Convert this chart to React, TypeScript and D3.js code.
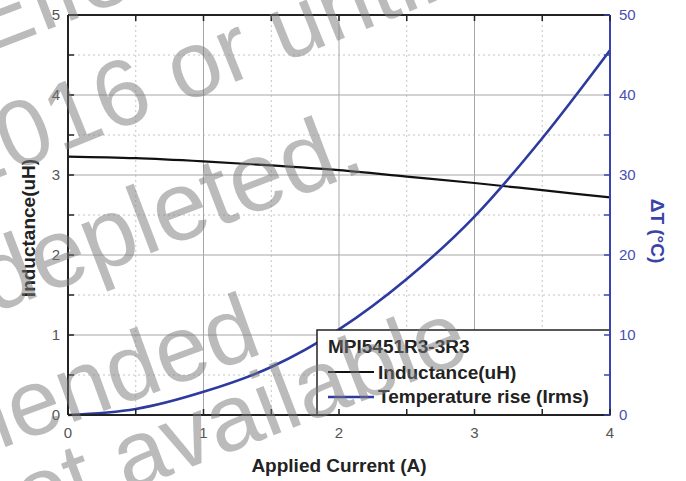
import React from 'react';
import * as d3 from 'd3';

// ---- data ----
const current = [0, 0.5, 1, 1.5, 2, 2.5, 3, 3.5, 4];
const inductance = [3.23, 3.21, 3.17, 3.12, 3.06, 2.98, 2.9, 2.81, 2.72];
const tempRise = [0, 0.75, 2.9, 6.0, 10.7, 17.0, 24.8, 34.6, 45.6];

const xTicks = [0, 1, 2, 3, 4];
const xMinor = [0.5, 1.5, 2.5, 3.5];
const leftTicks = [0, 1, 2, 3, 4, 5];
const leftMinor = [0.5, 1.5, 2.5, 3.5, 4.5];
const rightTicks = [0, 10, 20, 30, 40, 50];
const rightMinor = [5, 15, 25, 35, 45];

const legendTitle = 'MPI5451R3-3R3';
const seriesNames = ['Inductance(uH)', 'Temperature rise (Irms)'];
const xTitle = 'Applied Current (A)';
const yLeftTitle = 'Inductance(uH)';
const yRightTitle = 'ΔT (°C)';

const watermarkLines = ['Effective', '2016 or until', 'depleted.', 'recommended', 'not available'];

// ---- layout ----
const W = 686, H = 481;
const M = { left: 68, right: 610, top: 15, bottom: 415 };
const watermarkPos: [number, number, number, number][] = [
  [-18, 55, -21, 94],
  [-37, 192, -22, 94],
  [-8, 314, -21, 98],
  [-300, 558, -20, 94],
  [-20, 548, -21, 94],
];
const FONT = "Arial, 'Liberation Sans', sans-serif";
const BLUE_LINE = '#2d3a9e';
const BLUE_AXIS = '#3a44b0';
const BLUE_TEXT = '#4850b2';

export default function App() {
  const x = d3.scaleLinear().domain([0, 4]).range([M.left, M.right]);
  const yL = d3.scaleLinear().domain([0, 5]).range([M.bottom, M.top]);
  const yR = d3.scaleLinear().domain([0, 50]).range([M.bottom, M.top]);

  const indLine = d3
    .line<number>()
    .x((_, i) => x(current[i]))
    .y((d) => yL(d))
    .curve(d3.curveMonotoneX)(inductance) as string;
  const tempLine = d3
    .line<number>()
    .x((_, i) => x(current[i]))
    .y((d) => yR(d))
    .curve(d3.curveMonotoneX)(tempRise) as string;

  const tick = 6;
  const lg = { x0: 317, y0: 330 };

  return (
    <svg
      width={W}
      height={H}
      style={{ position: 'absolute', left: 0, top: 0, background: '#fff' }}
      fontFamily={FONT}
    >
      <rect x={0} y={0} width={W} height={H} fill="#fff" />
      {/* minor grid */}
      {xMinor.map((t) => (
        <line key={'gx' + t} x1={x(t)} x2={x(t)} y1={M.top} y2={M.bottom} stroke="#c4c4c4" strokeDasharray="2,3" />
      ))}
      {leftMinor.map((t) => (
        <line key={'gy' + t} x1={M.left} x2={M.right} y1={yL(t)} y2={yL(t)} stroke="#c4c4c4" strokeDasharray="2,3" />
      ))}
      {/* major grid */}
      {xTicks.slice(1, -1).map((t) => (
        <line key={'Gx' + t} x1={x(t)} x2={x(t)} y1={M.top} y2={M.bottom} stroke="#a6a6a6" />
      ))}
      {leftTicks.slice(1, -1).map((t) => (
        <line key={'Gy' + t} x1={M.left} x2={M.right} y1={yL(t)} y2={yL(t)} stroke="#a6a6a6" />
      ))}

      {/* series */}
      <path d={indLine} fill="none" stroke="#111" strokeWidth={2.2} />
      <path d={tempLine} fill="none" stroke={BLUE_LINE} strokeWidth={2.6} />

      {/* legend */}
      <rect x={lg.x0} y={lg.y0} width={M.right - lg.x0} height={M.bottom - lg.y0} fill="#fff" stroke="#222" strokeWidth={1.5} />
      <text x={328} y={353} fontSize={19} fontWeight="bold" fill="#222">{legendTitle}</text>
      <line x1={328} x2={374} y1={372} y2={372} stroke="#111" strokeWidth={2.2} />
      <text x={378} y={379} fontSize={19} fontWeight="bold" fill="#222">{seriesNames[0]}</text>
      <line x1={328} x2={374} y1={397} y2={397} stroke={BLUE_LINE} strokeWidth={2.6} />
      <text x={378} y={403} fontSize={19} fontWeight="bold" fill="#222">{seriesNames[1]}</text>

      {/* frame */}
      <line x1={M.left} x2={M.right} y1={M.top} y2={M.top} stroke="#222" strokeWidth={2} />
      <line x1={M.left} x2={M.right} y1={M.bottom} y2={M.bottom} stroke="#222" strokeWidth={2} />
      <line x1={M.left} x2={M.left} y1={M.top} y2={M.bottom} stroke="#222" strokeWidth={2} />
      <line x1={M.right} x2={M.right} y1={M.top} y2={M.bottom} stroke={BLUE_AXIS} strokeWidth={2} />

      {/* x ticks (top & bottom, inward) */}
      {[...xTicks, ...xMinor].map((t) => (
        <g key={'xt' + t}>
          <line x1={x(t)} x2={x(t)} y1={M.bottom} y2={M.bottom - tick} stroke="#222" strokeWidth={1.5} />
          <line x1={x(t)} x2={x(t)} y1={M.top} y2={M.top + tick} stroke="#222" strokeWidth={1.5} />
        </g>
      ))}
      {xTicks.map((t) => (
        <text key={'xl' + t} x={x(t)} y={438} fontSize={15} fill="#555" textAnchor="middle">{t}</text>
      ))}
      {/* left ticks */}
      {[...leftTicks, ...leftMinor].map((t) => (
        <line key={'lt' + t} x1={M.left} x2={M.left + tick} y1={yL(t)} y2={yL(t)} stroke="#222" strokeWidth={1.5} />
      ))}
      {leftTicks.map((t) => (
        <text key={'ll' + t} x={60} y={yL(t) + 5} fontSize={15} fill="#555" textAnchor="end">{t}</text>
      ))}
      {/* right ticks */}
      {[...rightTicks, ...rightMinor].map((t) => (
        <line key={'rt' + t} x1={M.right} x2={M.right - tick} y1={yR(t)} y2={yR(t)} stroke={BLUE_AXIS} strokeWidth={1.5} />
      ))}
      {rightTicks.map((t) => (
        <text key={'rl' + t} x={619} y={yR(t) + 5} fontSize={15} fill={BLUE_TEXT}>{t}</text>
      ))}

      {/* axis titles */}
      <text x={(M.left + M.right) / 2} y={472} fontSize={19} fontWeight="bold" fill="#222" textAnchor="middle">{xTitle}</text>
      <text transform={`translate(35,228) rotate(-90)`} fontSize={19} fontWeight="bold" fill="#222" textAnchor="middle">{yLeftTitle}</text>
      <text transform={`translate(651,231) rotate(90)`} fontSize={19} fontWeight="bold" fill="#3a44a8" textAnchor="middle">{yRightTitle}</text>

      {/* watermark */}
      <g fill="#7a7a7a" opacity={0.5}>
        {watermarkLines.map((s, i) => (
          <text
            key={'wm' + i}
            fontSize={watermarkPos[i][3]}
            transform={`translate(${watermarkPos[i][0]},${watermarkPos[i][1]}) rotate(${watermarkPos[i][2]})`}
          >
            {s}
          </text>
        ))}
      </g>
    </svg>
  );
}
